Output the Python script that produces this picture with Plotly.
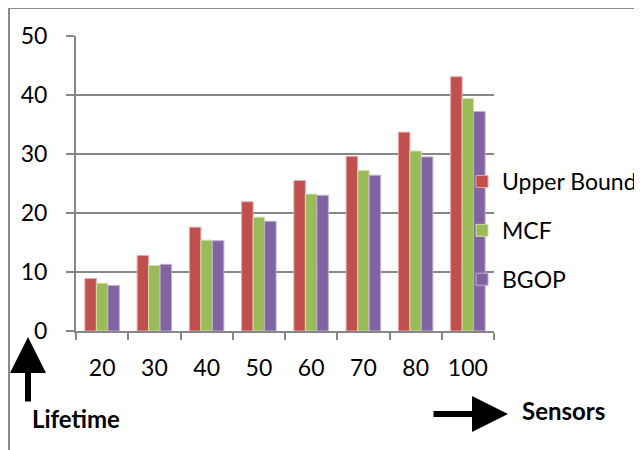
import plotly.graph_objects as go

categories = ["20", "30", "40", "50", "60", "70", "80", "100"]
upper_bound = [8.9, 12.8, 17.6, 21.9, 25.5, 29.6, 33.7, 43.1]
mcf = [8.1, 11.1, 15.4, 19.3, 23.2, 27.2, 30.5, 39.4]
bgop = [7.7, 11.3, 15.3, 18.6, 23.0, 26.4, 29.5, 37.2]
y_ticks = [0, 10, 20, 30, 40, 50]

# the page body has an 8px margin; lay out the figure so it lands on the reference
OFF = 8
W, H = 642 - OFF, 450 - OFF
PL, PR, PT, PB = 76, 494, 36, 331          # plot area in reference pixels
L, R, T, B = PL - OFF, W - (PR - OFF), PT - OFF, H - (PB - OFF)
pw, ph = PR - PL, PB - PT

def px(x):
    return (x - PL) / pw

def py(y):
    return (PB - y) / ph

FONT = "Lato, Noto Sans, sans-serif"
GRID = "#878787"

fig = go.Figure()
series = [("Upper Bound", upper_bound, "#C0504D", "#E6A9A8"),
          ("MCF", mcf, "#9BBB59", "#CFE0AE"),
          ("BGOP", bgop, "#8064A2", "#BFAED3")]
for name, vals, col, edge in series:
    fig.add_trace(go.Bar(x=categories, y=vals, name=name, legendgroup=name,
                         marker=dict(color=col, line=dict(color=edge, width=1))))

fig.update_layout(
    width=W, height=H,
    margin=dict(l=L, r=R, t=T, b=B, autoexpand=False),
    paper_bgcolor="white", plot_bgcolor="white",
    barmode="group", bargap=0.34, bargroupgap=0,
    font=dict(family=FONT, size=23, color="black"),
    showlegend=True,
    legend=dict(x=px(462), y=py(160), xanchor="left", yanchor="top",
                traceorder="grouped", tracegroupgap=16,
                font=dict(family=FONT, size=23, color="black"),
                bgcolor="rgba(0,0,0,0)", itemwidth=30),
    xaxis=dict(type="category", showline=True, linecolor=GRID, linewidth=2,
               ticks="outside", tickson="boundaries", ticklen=7, tickwidth=2,
               tickcolor=GRID, showgrid=False, ticklabelstandoff=15,
               tickfont=dict(family=FONT, size=23)),
    yaxis=dict(range=[0, 50], tickvals=y_ticks, showline=True, linecolor=GRID,
               linewidth=2, ticks="outside", ticklen=8, tickwidth=2, tickcolor=GRID,
               showgrid=True, gridcolor=GRID, gridwidth=2, zeroline=False,
               ticklabelstandoff=14, tickfont=dict(family=FONT, size=23)),
)

# outer chart frame (cropped at right and bottom)
fig.add_shape(type="line", xref="paper", yref="paper",
              x0=px(PL - L), y0=py(8), x1=px(PL - L + W + 5), y1=py(8),
              line=dict(color="#8a8a8a", width=2))
fig.add_shape(type="line", xref="paper", yref="paper",
              x0=px(9), y0=py(8), x1=px(9), y1=py(PB + B + 5),
              line=dict(color="#8a8a8a", width=2))

# arrows
fig.add_annotation(xref="paper", yref="paper", x=px(28), y=py(337), ax=0, ay=66,
                   axref="pixel", ayref="pixel", text="", showarrow=True,
                   arrowhead=2, arrowsize=1.2, arrowwidth=6, arrowcolor="black")
fig.add_annotation(xref="paper", yref="paper", x=px(508), y=py(414), ax=-76, ay=0,
                   axref="pixel", ayref="pixel", text="", showarrow=True,
                   arrowhead=2, arrowsize=1.2, arrowwidth=6, arrowcolor="black")
fig.add_annotation(xref="paper", yref="paper", x=px(76), y=py(418), text="<b>Lifetime</b>",
                   xanchor="center", yanchor="middle",
                   showarrow=False, font=dict(family=FONT, size=24, color="black"))
fig.add_annotation(xref="paper", yref="paper", x=px(563), y=py(410), text="<b>Sensors</b>",
                   xanchor="center", yanchor="middle",
                   showarrow=False, font=dict(family=FONT, size=24, color="black"))

fig.write_html("out.html")
